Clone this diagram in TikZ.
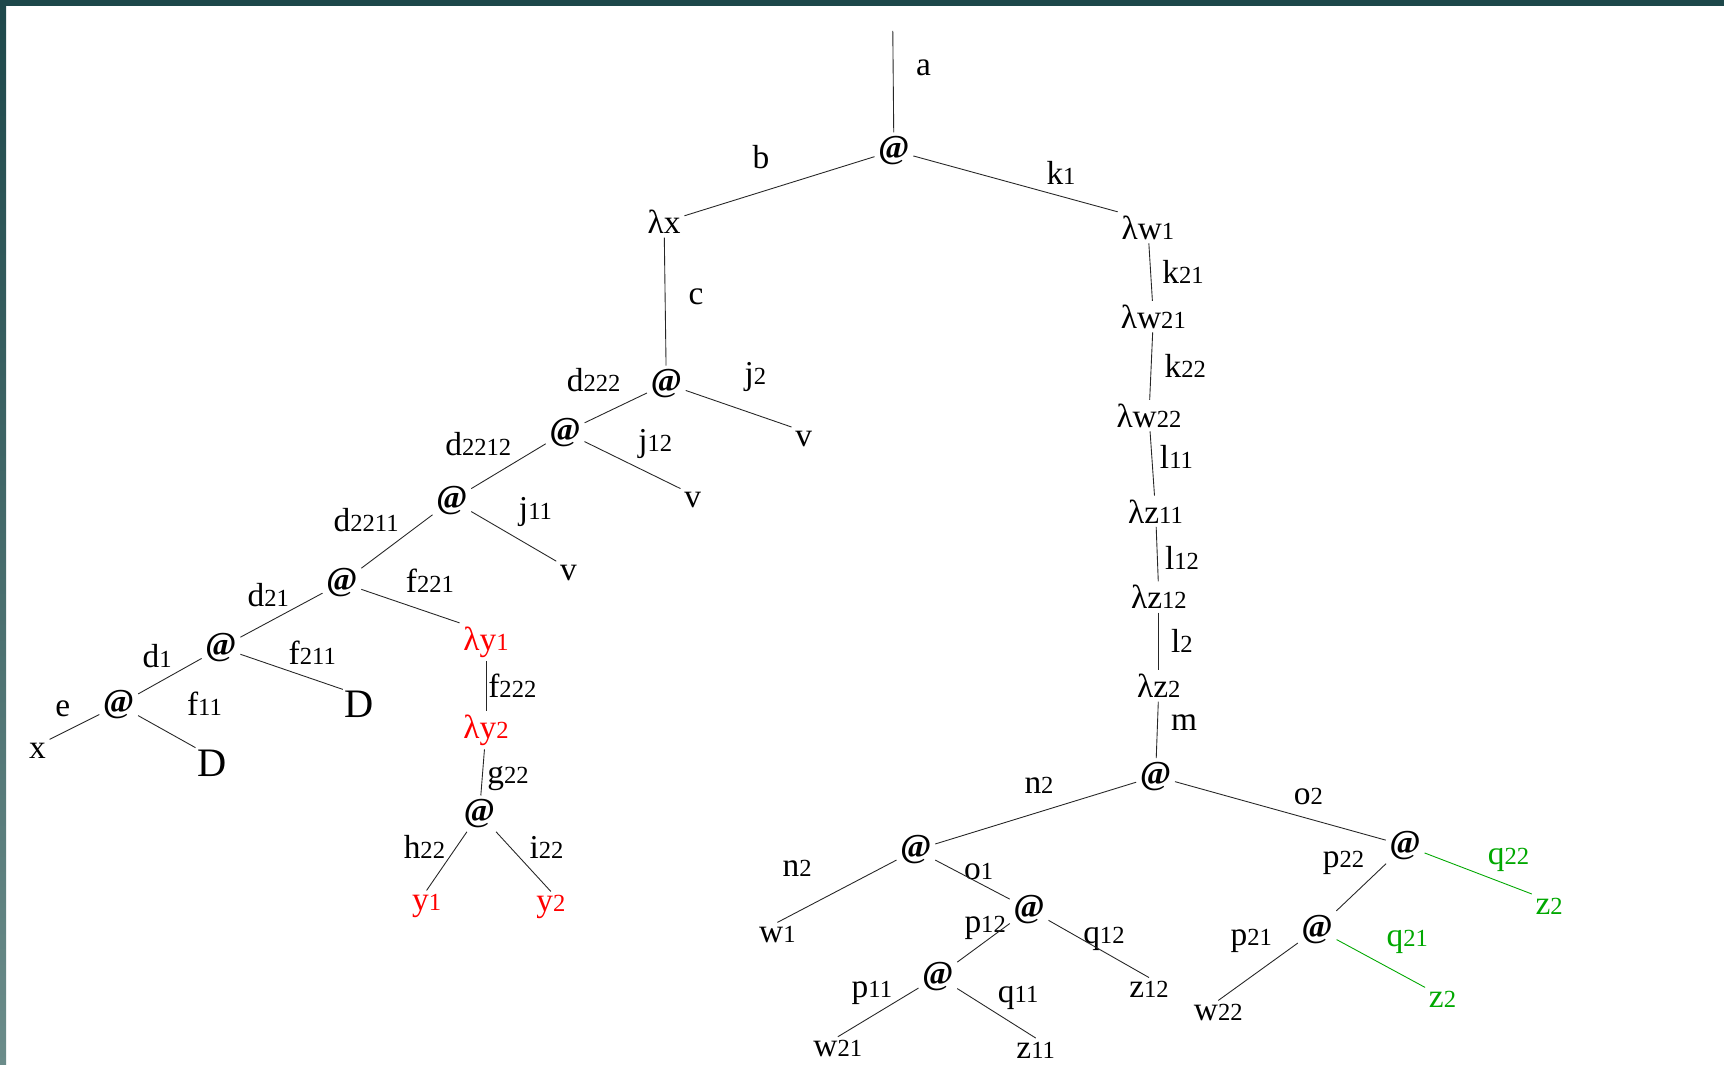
\documentclass[tikz,border=0pt]{standalone}
\usepackage{fontspec}
\setmainfont{Liberation Serif}
\usepackage{tikz}
\usetikzlibrary{positioning}
\definecolor{barteal}{HTML}{1D474A}
\definecolor{barlight}{HTML}{6B8C8A}
\definecolor{termred}{HTML}{FF0000}
\definecolor{termgreen}{HTML}{00A800}
\newcommand{\tfont}{\fontsize{19}{21}\selectfont}
\newcommand{\nsub}[1]{{\fontsize{14}{14}\selectfont #1}}
\newcommand{\app}{\textbf{@}}

\begin{document}
\begin{tikzpicture}[
        x=0.02199cm, y=-0.02199cm,
        term/.style={inner sep=2pt, font=\tfont},
        lab/.style={inner sep=0pt, font=\tfont},
        bigterm/.style={inner sep=1pt, font=\fontsize{23}{25}\selectfont},
        redterm/.style={term, text=termred},
        greenterm/.style={term, text=termgreen},
        edge/.style={line width=0.5pt, black!85},
        gedge/.style={line width=0.5pt, termgreen}
    ]
        \useasboundingbox (0,0) rectangle (1568,968);
        \fill[white] (0,0) rectangle (1568,968);
        \fill[barteal] (0,0) rectangle (1568,5.5);
        \shade[top color=barteal, bottom color=barlight] (0,0) rectangle (5.5,968);

        % top of the tree
        \coordinate (top) at (812,28);
        \node[term] (root) at (813,137) {\app};
        \node[lab] (la) at (840,62) {a};
        \node[term] (lx) at (604,202) {λx};
        \node[lab] (lb) at (692,143) {b};
        \node[term] (lw1) at (1044,207) {λw\nsub{1}};
        \node[lab] (lk1) at (965,157) {k\nsub{1}};
        \node[lab] (lc) at (633,270) {c};

        % left spine
        \node[term] (app1) at (606,349) {\app};
        \node[lab] (ld222) at (540,346) {d\nsub{222}};
        \node[lab] (lj2) at (687,343) {j\nsub{2}};
        \node[term] (v1) at (731,399) {v};
        \node[term] (app2) at (514,393) {\app};
        \node[lab] (ld2212) at (435,404) {d\nsub{2212}};
        \node[lab] (lj12) at (596,404) {j\nsub{12}};
        \node[term] (v2) at (630,455) {v};
        \node[term] (app3) at (411,455) {\app};
        \node[lab] (ld2211) at (333,473) {d\nsub{2211}};
        \node[lab] (lj11) at (487,466) {j\nsub{11}};
        \node[term] (v3) at (517,521) {v};
        \node[term] (app4) at (311,530) {\app};
        \node[lab] (ld21) at (244,541) {d\nsub{21}};
        \node[lab] (lf221) at (391,528) {f\nsub{221}};
        \node[term] (app5) at (201,589) {\app};
        \node[lab] (ld1) at (143,597) {d\nsub{1}};
        \node[lab] (lf211) at (284,594) {f\nsub{211}};
        \node[bigterm] (dd1) at (327,641) {D};
        \node[term] (app6) at (108,641) {\app};
        \node[lab] (le) at (57,645) {e};
        \node[lab] (lf11) at (186,640) {f\nsub{11}};
        \node[bigterm] (dd2) at (193,694) {D};
        \node[term] (xx) at (34,683) {x};

        % red part
        \node[redterm] (ly1) at (442,584) {λy\nsub{1}};
        \node[lab] (lf222) at (466,624) {f\nsub{222}};
        \node[redterm] (ly2) at (442,664) {λy\nsub{2}};
        \node[lab] (lg22) at (462,708) {g\nsub{22}};
        \node[term] (app7) at (436,740) {\app};
        \node[lab] (lh22) at (386,770) {h\nsub{22}};
        \node[lab] (li22) at (497,771) {i\nsub{22}};
        \node[redterm] (y1) at (388,824) {y\nsub{1}};
        \node[redterm] (y2) at (501,825) {y\nsub{2}};

        % right chain
        \node[lab] (lk21) at (1076,247) {k\nsub{21}};
        \node[term] (lw21) at (1049,288) {λw\nsub{21}};
        \node[lab] (lk22) at (1078,333) {k\nsub{22}};
        \node[term] (lw22) at (1045,378) {λw\nsub{22}};
        \node[lab] (ll11) at (1070,416) {l\nsub{11}};
        \node[term] (lz11) at (1051,465) {λz\nsub{11}};
        \node[lab] (ll12) at (1075,507) {l\nsub{12}};
        \node[term] (lz12) at (1054,543) {λz\nsub{12}};
        \node[lab] (ll2) at (1075,583) {l\nsub{2}};
        \node[term] (lz2) at (1054,624) {λz\nsub{2}};
        \node[lab] (lm) at (1077,657) {m};

        % right bottom
        \node[term] (appR) at (1051,706) {\app};
        \node[lab] (ln2a) at (945,714) {n\nsub{2}};
        \node[lab] (lo2) at (1190,724) {o\nsub{2}};
        \node[term] (appL) at (833,773) {\app};
        \node[lab] (ln2b) at (725,790) {n\nsub{2}};
        \node[term] (w1) at (707,850) {w\nsub{1}};
        \node[lab] (lo1) at (890,793) {o\nsub{1}};
        \node[term] (appM) at (936,827) {\app};
        \node[lab] (lp12) at (896,844) {p\nsub{12}};
        \node[lab] (lq12) at (1004,854) {q\nsub{12}};
        \node[term] (z12) at (1045,900) {z\nsub{12}};
        \node[term] (appN) at (853,888) {\app};
        \node[lab] (lp11) at (793,903) {p\nsub{11}};
        \node[lab] (lq11) at (926,908) {q\nsub{11}};
        \node[term] (w21) at (762,954) {w\nsub{21}};
        \node[term] (z11) at (942,955) {z\nsub{11}};
        \node[term] (appP) at (1278,769) {\app};
        \node[lab] (lp22) at (1222,785) {p\nsub{22}};
        \node[lab, text=termgreen] (lq22) at (1372,782) {q\nsub{22}};
        \node[greenterm] (z2a) at (1409,824) {z\nsub{2}};
        \node[term] (appQ) at (1198,845) {\app};
        \node[lab] (lp21) at (1138,856) {p\nsub{21}};
        \node[term] (w22) at (1108,921) {w\nsub{22}};
        \node[lab, text=termgreen] (lq21) at (1280,857) {q\nsub{21}};
        \node[greenterm] (z2b) at (1312,909) {z\nsub{2}};

        % edges
        \draw[edge] (top) -- (root);
        \draw[edge] (root) -- (lx);
        \draw[edge] (root) -- (lw1.north west);
        \draw[edge] (lx) -- (app1);
        \draw[edge] (app1) -- (app2);
        \draw[edge] (app1) -- (v1.north west);
        \draw[edge] (app2) -- (app3);
        \draw[edge] (app2) -- (v2.north west);
        \draw[edge] (app3) -- (app4);
        \draw[edge] (app3) -- (v3.north west);
        \draw[edge] (app4) -- (app5);
        \draw[edge] (app4) -- (ly1.north west);
        \draw[edge] (app5) -- (app6);
        \draw[edge] (app5) -- (dd1.north west);
        \draw[edge] (app6) -- (xx.north east);
        \draw[edge] (app6) -- (dd2.north west);
        \draw[edge] (ly1) -- (ly2);
        \draw[edge] (ly2) -- (app7);
        \draw[edge] (app7) -- (y1.north);
        \draw[edge] (app7) -- (y2.north);

        \draw[edge] (lw1) -- (lw21);
        \draw[edge] (lw21) -- (lw22);
        \draw[edge] (lw22) -- (lz11);
        \draw[edge] (lz11) -- (lz12);
        \draw[edge] (lz12) -- (lz2);
        \draw[edge] (lz2) -- (appR);
        \draw[edge] (appR) -- (appL);
        \draw[edge] (appR) -- (appP);
        \draw[edge] (appL) -- (w1.north);
        \draw[edge] (appL) -- (appM);
        \draw[edge] (appM) -- (appN);
        \draw[edge] (appM) -- (z12.north);
        \draw[edge] (appN) -- (w21.north);
        \draw[edge] (appN) -- (z11.north);
        \draw[edge] (appP) -- (appQ);
        \draw[gedge] (appP) -- (z2a.north west);
        \draw[edge] (appQ) -- (w22.north);
        \draw[gedge] (appQ) -- (z2b.north west);
    \end{tikzpicture}
\end{document}
